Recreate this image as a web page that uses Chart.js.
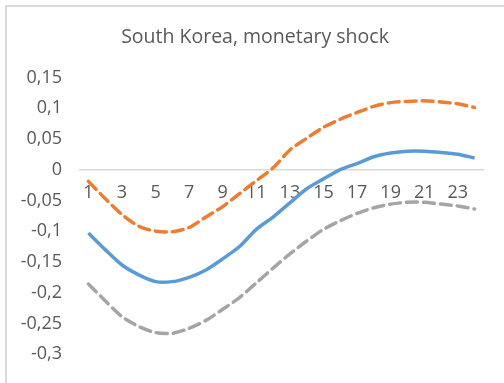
<!DOCTYPE html>
<html>
<head>
<meta charset="utf-8">
<script src="https://cdn.jsdelivr.net/npm/chart.js@4/dist/chart.umd.min.js"></script>
<style>
  html, body { margin: 0; padding: 0; background: #fff; }
  #wrap { position: relative; width: 504px; height: 383px; overflow: hidden; }
  #frame { position: absolute; left: 5px; top: 5px; width: 600px; height: 500px;
           border-left: 2px solid #d9d9d9; border-top: 2px solid #d9d9d9; }
  canvas { position: absolute; left: 0; top: 0; }
</style>
</head>
<body>
<div id="wrap">
  <div id="frame"></div>
  <canvas id="chart" width="504" height="383"></canvas>
</div>
<script>
const periods = [1, 2, 3, 4, 5, 6, 7, 8, 9, 10, 11, 12, 13, 14, 15, 16, 17, 18, 19, 20, 21, 22, 23, 24];
const meanResponse = [-0.103, -0.130, -0.155, -0.171, -0.182, -0.182, -0.175, -0.163, -0.145, -0.125, -0.097, -0.077,
  -0.054, -0.031, -0.015, 0.000, 0.010, 0.021, 0.027, 0.030, 0.030, 0.028, 0.025, 0.019];
const upperBand = [-0.019, -0.047, -0.073, -0.092, -0.100, -0.101, -0.094, -0.077, -0.060, -0.039, -0.018, 0.003,
  0.032, 0.051, 0.069, 0.082, 0.093, 0.103, 0.109, 0.111, 0.112, 0.110, 0.107, 0.101];
const lowerBand = [-0.186, -0.213, -0.239, -0.255, -0.265, -0.266, -0.258, -0.245, -0.227, -0.208, -0.184, -0.160,
  -0.137, -0.116, -0.097, -0.083, -0.071, -0.062, -0.056, -0.053, -0.053, -0.056, -0.059, -0.064];
const yMin = -0.3;
const yMax = 0.15;
const yStep = 0.05;

const FONT = "'Open Sans', 'Noto Sans', sans-serif";
const TXT = "#595959";

new Chart(document.getElementById("chart"), {
  type: "line",
  data: {
    labels: periods,
    datasets: [
      { label: "mean", data: meanResponse, borderColor: "#5b9bd5", borderWidth: 3.5,
        pointRadius: 0, tension: 0.25, fill: false },
      { label: "upper", data: upperBand, borderColor: "#ed7d31", borderWidth: 3.5, borderDash: [11, 6],
        borderCapStyle: "round", pointRadius: 0, tension: 0.25, fill: false },
      { label: "lower", data: lowerBand, borderColor: "#a5a5a5", borderWidth: 3.5, borderDash: [11, 6],
        borderCapStyle: "round", pointRadius: 0, tension: 0.25, fill: false }
    ]
  },
  options: {
    responsive: false,
    animation: false,
    // negative right padding + blank right axis keeps the title centred like the original
    layout: { padding: { left: 0, right: -6, top: 26, bottom: 11 } },
    plugins: {
      legend: { display: false },
      tooltip: { enabled: false },
      title: {
        display: true,
        text: "South Korea, monetary shock",
        color: TXT,
        font: { family: FONT, size: 19.5, weight: "normal" },
        padding: { top: 0, bottom: 28 }
      }
    },
    scales: {
      x: {
        position: { y: 0 },
        offset: true,
        afterFit: (s) => { s.height = 0; s.paddingTop = 0; s.paddingBottom = 0; },
        grid: { display: false, drawTicks: false },
        border: { display: true, color: "#d9d9d9", width: 1.5 },
        ticks: {
          color: TXT,
          font: { family: FONT, size: 18 },
          autoSkip: false,
          maxRotation: 0,
          padding: 12,
          callback: (v, i) => (i % 2 === 0 ? periods[i] : "")
        }
      },
      y: {
        min: yMin,
        max: yMax,
        grid: { display: false, drawTicks: false },
        border: { display: false },
        afterFit: (s) => { s.width = 80; },
        ticks: {
          stepSize: yStep,
          color: TXT,
          font: { family: FONT, size: 18 },
          padding: 18,
          callback: (v) => {
            const r = Math.round(v * 100) / 100;
            return String(r).replace(".", ",");
          }
        }
      },
      yRight: {
        position: "right",
        min: yMin,
        max: yMax,
        grid: { display: false, drawTicks: false },
        border: { display: false },
        ticks: { display: false },
        afterFit: (s) => { s.width = 27; }
      }
    }
  }
});
</script>
</body>
</html>
